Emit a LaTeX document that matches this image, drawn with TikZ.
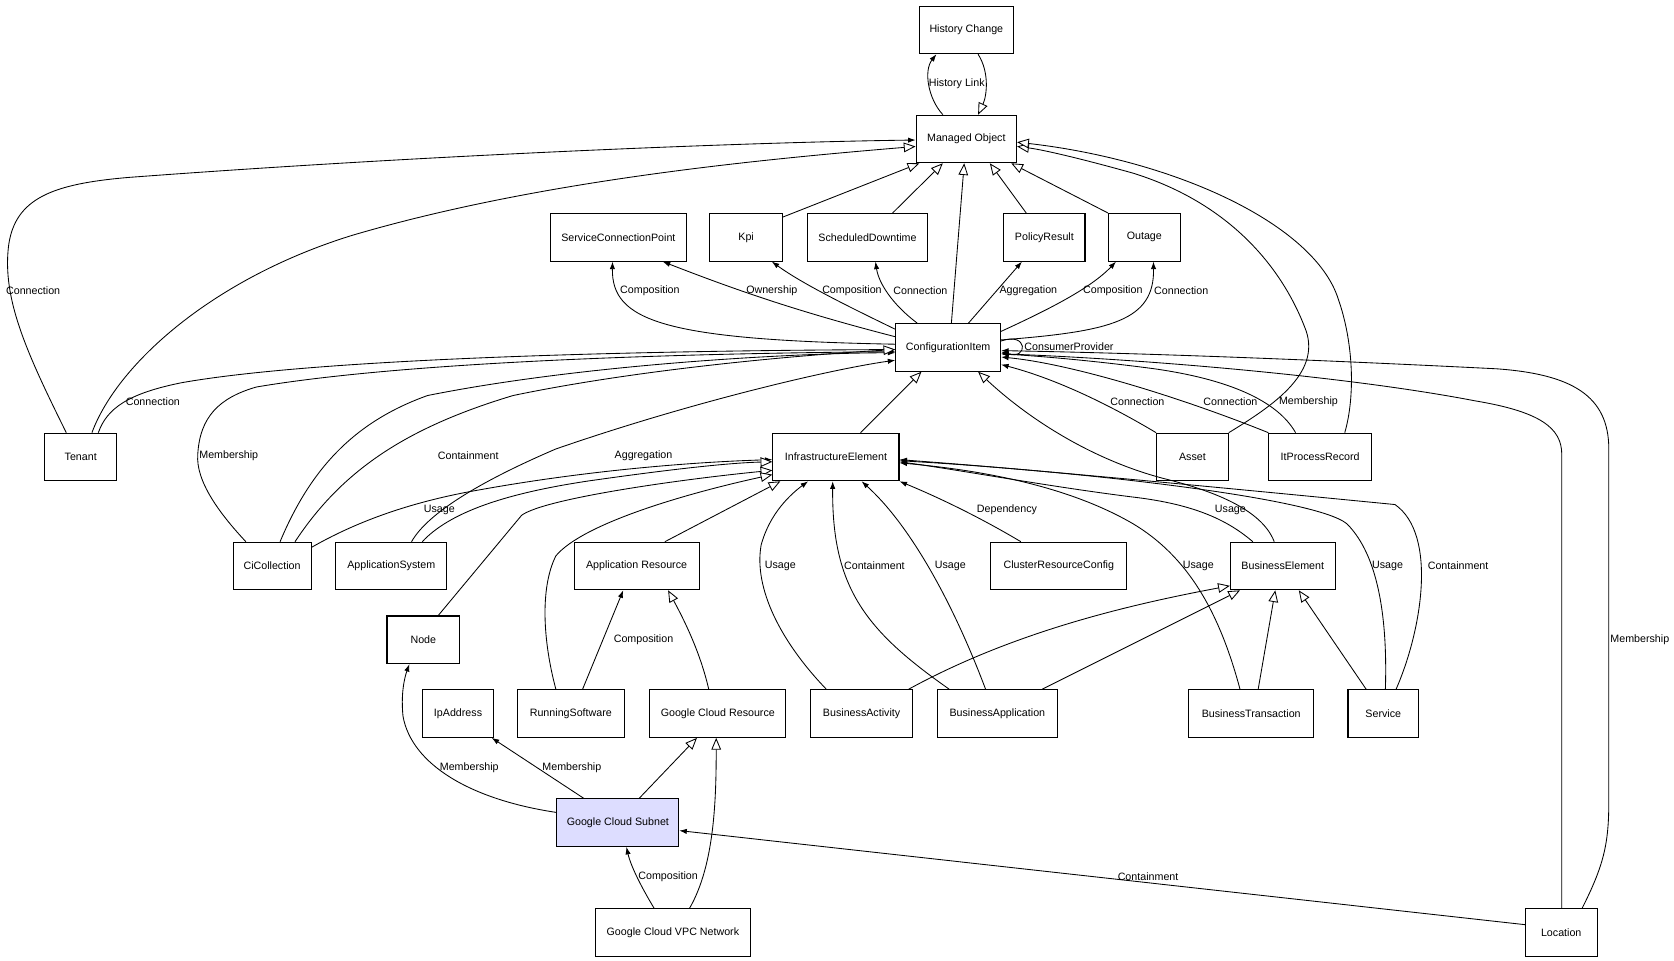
\documentclass[tikz,border=0pt]{standalone}
\usepackage{fontspec}
\setmainfont{Liberation Sans}
\usetikzlibrary{arrows.meta}
\definecolor{subnet}{RGB}{221,221,255}
\begin{document}
\begin{tikzpicture}[x=1pt,y=-1pt,
  box/.style={draw,line width=1pt,minimum height=44.5pt,inner sep=0pt,font=\fontsize{10}{12}\selectfont},
  lab/.style={inner sep=0.5pt,font=\fontsize{10}{12}\selectfont},
  edge/.style={line width=0.8pt},
  assoc/.style={edge,-{Latex[length=7pt,width=5pt]}},
  gen/.style={edge,-{Triangle[length=11pt,width=9pt,fill=white]}}]
\useasboundingbox (0,0) rectangle (1566,899);
% nodes
\node[box,minimum width=88pt] (hc) at (904,28) {History Change};
\node[box,minimum width=94pt] (mo) at (904,130) {Managed Object};
\node[box,minimum width=127pt] (scp) at (578.5,222) {ServiceConnectionPoint};
\node[box,minimum width=68pt] (kpi) at (698,222) {Kpi};
\node[box,minimum width=113pt] (sd) at (811.5,222) {ScheduledDowntime};
\node[box,minimum width=76pt] (pr) at (977,222) {PolicyResult};
\node[box,minimum width=67pt] (out) at (1070.5,222) {Outage};
\node[box,minimum width=98pt] (ci) at (887,325) {ConfigurationItem};
\node[box,minimum width=67pt] (ten) at (75.5,427.5) {Tenant};
\node[box,minimum width=118pt] (ie) at (782,427.5) {InfrastructureElement};
\node[box,minimum width=67pt] (asset) at (1115.5,427.5) {Asset};
\node[box,minimum width=96pt] (ipr) at (1235,427.5) {ItProcessRecord};
\node[box,minimum width=73pt] (cic) at (254.5,529.5) {CiCollection};
\node[box,minimum width=104pt] (as) at (366,529.5) {ApplicationSystem};
\node[box,minimum width=117pt] (ar) at (595.5,529.5) {Application Resource};
\node[box,minimum width=127pt] (crc) at (990.5,529.5) {ClusterResourceConfig};
\node[box,minimum width=98pt] (be) at (1200,529.5) {BusinessElement};
\node[box,minimum width=68pt] (node) at (396,598.5) {Node};
\node[box,minimum width=67pt] (ip) at (428.5,667.5) {IpAddress};
\node[box,minimum width=100pt] (rs) at (534,667.5) {RunningSoftware};
\node[box,minimum width=127pt] (gcr) at (671.5,667.5) {Google Cloud Resource};
\node[box,minimum width=96pt] (ba) at (806,667.5) {BusinessActivity};
\node[box,minimum width=112pt] (bapp) at (933,667.5) {BusinessApplication};
\node[box,minimum width=117pt] (bt) at (1170.5,667.5) {BusinessTransaction};
\node[box,minimum width=66pt] (svc) at (1294,667.5) {Service};
\node[box,minimum width=114pt,fill=subnet] (gcs) at (578,769.5) {Google Cloud Subnet};
\node[box,minimum width=145pt] (vpc) at (629.5,872.5) {Google Cloud VPC Network};
\node[box,minimum width=67pt] (loc) at (1460.5,872.5) {Location};
% history
\draw[assoc] (mo.north -| 882,0) .. controls (868,92) and (864,66) .. (hc.south -| 876,0);
\draw[gen] (hc.south -| 915,0) .. controls (926,68) and (923,90) .. (mo.north -| 915,0);
% tenant
\draw[assoc] (ten.north -| 62,0) .. controls (25,330) and (2,280) .. (8,230) .. controls (14,185) and (50,172) .. (120,166) .. controls (400,145) and (700,133) .. (mo.west |- 0,131);
\draw[gen] (ten.north -| 86,0) .. controls (110,340) and (200,260) .. (330,220) .. controls (500,170) and (700,150) .. (mo.west |- 0,137);
\draw[assoc] (ten.north -| 92,0) .. controls (100,382) and (120,368) .. (170,358) .. controls (300,335) and (600,328) .. (ci.west |- 0,327);
% generalizations to managed object
\draw[gen] (kpi.east |- 0,203) -- (mo.south -| 860,0);
\draw[gen] (sd.north -| 835,0) -- (mo.south -| 882,0);
\draw[gen] (ci.north -| 890,0) -- (mo.south -| 902,0);
\draw[gen] (pr.north -| 960,0) -- (mo.south -| 926,0);
\draw[gen] (out.north west) -- (mo.south -| 946,0);
\draw[gen] (asset.north east) .. controls (1190,380) and (1235,350) .. (1222,310) .. controls (1200,250) and (1150,190) .. (1060,162) .. controls (1010,148) and (975,140) .. (mo.east |- 0,137);
\draw[gen] (ipr.north -| 1258,0) .. controls (1268,370) and (1266,320) .. (1252,280) .. controls (1230,210) and (1100,150) .. (mo.east |- 0,133);
% configuration item associations upward
\draw[assoc] (ci.west |- 0,322) .. controls (620,318) and (572,300) .. (scp.south -| 573,0);
\draw[assoc] (ci.west |- 0,315) .. controls (740,290) and (680,268) .. (scp.south -| 620,0);
\draw[assoc] (ci.west |- 0,308) .. controls (790,285) and (750,265) .. (kpi.south -| 722,0);
\draw[assoc] (ci.north -| 858,0) .. controls (835,285) and (822,265) .. (sd.south -| 819,0);
\draw[assoc] (ci.north -| 906,0) -- (pr.south -| 956,0);
\draw[assoc] (ci.east |- 0,310) .. controls (980,290) and (1020,270) .. (out.south -| 1044,0);
\draw[assoc] (ci.east |- 0,318) .. controls (1040,310) and (1080,300) .. (out.south -| 1079,0);
\draw[assoc] (ci.east |- 0,319) .. controls (962,310) and (962,337) .. (ci.east |- 0,329);
% into CI
\draw[gen] (ie.north -| 805,0) -- (ci.south -| 862,0);
\draw[gen] (be.north -| 1192,0) .. controls (1180,475) and (1130,458) .. (1090,448) .. controls (1020,430) and (960,390) .. (ci.south -| 915,0);
\draw[assoc] (asset.north west) .. controls (1040,380) and (990,355) .. (ci.east |- 0,341);
\draw[assoc] (ipr.north west) .. controls (1100,370) and (1000,340) .. (ci.east |- 0,334);
\draw[assoc] (ipr.north -| 1212,0) .. controls (1195,375) and (1150,355) .. (1080,345) .. controls (1020,337) and (970,333) .. (ci.east |- 0,331);
\draw[assoc] (loc.north -| 1480,0) .. controls (1500,810) and (1505,790) .. (1505,750) -- (1505,420) .. controls (1505,370) and (1470,350) .. (1400,345) .. controls (1200,335) and (1050,330) .. (ci.east |- 0,328);
\draw[assoc] (loc.north -| 1461,0) -- (1461,425) .. controls (1461,400) and (1440,385) .. (1380,375) .. controls (1250,350) and (1050,335) .. (ci.east |- 0,331);
\draw[assoc] (cic.north -| 230,0) .. controls (205,480) and (183,450) .. (185,425) .. controls (187,390) and (205,372) .. (240,362) .. controls (400,335) and (700,330) .. (ci.west |- 0,329);
\draw[assoc] (cic.north -| 262,0) .. controls (290,440) and (330,395) .. (400,370) .. controls (550,340) and (750,330) .. (ci.west |- 0,330);
\draw[gen] (cic.north -| 276,0) .. controls (320,440) and (380,400) .. (480,370) .. controls (600,345) and (750,332) .. (ci.west |- 0,327);
\draw[assoc] (as.north -| 385,0) .. controls (400,480) and (450,450) .. (520,420) .. controls (650,375) and (780,345) .. (ci.west |- 0,337);
% into IE (left)
\draw[assoc] (cic.east |- 0,512) .. controls (330,490) and (380,470) .. (450,458) .. controls (550,440) and (650,432) .. (ie.west |- 0,430);
\draw[gen] (as.north -| 395,0) .. controls (420,480) and (470,462) .. (550,450) .. controls (620,440) and (680,433) .. (ie.west |- 0,432);
\draw[gen] (node.north -| 410,0) -- (488,482) .. controls (510,466) and (640,448) .. (ie.west |- 0,440);
\draw[gen] (rs.north -| 520,0) .. controls (508,600) and (505,550) .. (520,520) .. controls (545,490) and (640,462) .. (ie.west |- 0,444);
\draw[gen] (ar.north -| 622,0) -- (ie.south -| 730,0);
% into IE (bottom)
\draw[assoc] (ba.north -| 773,0) .. controls (730,600) and (705,550) .. (712,510) .. controls (720,480) and (740,462) .. (ie.south -| 756,0);
\draw[assoc] (bapp.north -| 888,0) .. controls (810,590) and (778,550) .. (ie.south -| 779,0);
\draw[assoc] (bapp.north -| 922,0) .. controls (890,560) and (850,490) .. (ie.south -| 806,0);
\draw[assoc] (crc.north -| 955,0) .. controls (910,480) and (870,462) .. (ie.south east);
% into IE (right)
\draw[assoc] (bt.north -| 1160,0) .. controls (1140,570) and (1110,520) .. (1060,490) .. controls (1000,455) and (920,440) .. (ie.east |- 0,433);
\draw[assoc] (be.north -| 1172,0) .. controls (1150,488) and (1120,472) .. (1060,465) .. controls (980,455) and (900,440) .. (ie.east |- 0,432);
\draw[assoc] (svc.north -| 1296,0) .. controls (1298,580) and (1290,520) .. (1260,490) .. controls (1230,465) and (1000,440) .. (ie.east |- 0,431);
\draw[assoc] (svc.north -| 1306,0) .. controls (1330,590) and (1345,500) .. (1305,472) .. controls (1100,452) and (950,438) .. (ie.east |- 0,430);
% business element
\draw[gen] (ba.north -| 850,0) .. controls (950,590) and (1060,565) .. (be.west |- 0,548);
\draw[gen] (bapp.north -| 975,0) -- (be.south -| 1160,0);
\draw[gen] (bt.north -| 1177,0) -- (be.south -| 1193,0);
\draw[gen] (svc.north -| 1278,0) -- (be.south -| 1215,0);
% application resource
\draw[assoc] (rs.north -| 545,0) -- (ar.south -| 583,0);
\draw[gen] (gcr.north -| 663,0) .. controls (655,610) and (640,580) .. (ar.south -| 625,0);
% google cloud
\draw[assoc] (gcs.west |- 0,760) .. controls (440,748) and (385,715) .. (377,670) .. controls (375,650) and (378,635) .. (node.south -| 383,0);
\draw[assoc] (gcs.north -| 546,0) -- (ip.south -| 460,0);
\draw[gen] (gcs.north -| 598,0) -- (gcr.south -| 652,0);
\draw[assoc] (vpc.north -| 612,0) .. controls (600,830) and (590,810) .. (gcs.south -| 586,0);
\draw[gen] (vpc.north -| 645,0) .. controls (668,810) and (670,750) .. (gcr.south -| 670,0);
\draw[assoc] (loc.west |- 0,865) -- (gcs.east |- 0,777);
% labels
\node[lab] (l1) at (895,78) {History Link};
\node[lab] (l2) at (31,272) {Connection};
\node[lab] (l3) at (608,272) {Composition};
\node[lab] (l4) at (722,272) {Ownership};
\node[lab] (l5) at (797,272) {Composition};
\node[lab] (l6) at (861,272) {Connection};
\node[lab] (l7) at (962,272) {Aggregation};
\node[lab] (l8) at (1041,272) {Composition};
\node[lab] (l9) at (1105,272) {Connection};
\node[lab] (l10) at (1000,324) {ConsumerProvider};
\node[lab] (l11) at (143,376) {Connection};
\node[lab] (l12) at (1064,376) {Connection};
\node[lab] (l13) at (1151,376) {Connection};
\node[lab] (l14) at (1224,376) {Membership};
\node[lab] (l15) at (214,426) {Membership};
\node[lab] (l16) at (438,426) {Containment};
\node[lab] (l17) at (602,426) {Aggregation};
\node[lab] (l18) at (411,477) {Usage};
\node[lab] (l19) at (942,477) {Dependency};
\node[lab] (l20) at (1151,477) {Usage};
\node[lab] (l21) at (730,529) {Usage};
\node[lab] (l22) at (818,529) {Containment};
\node[lab] (l23) at (889,529) {Usage};
\node[lab] (l24) at (1121,529) {Usage};
\node[lab] (l25) at (1298,529) {Usage};
\node[lab] (l26) at (1364,529) {Containment};
\node[lab] (l27) at (602,598) {Composition};
\node[lab] (l28) at (1534,598) {Membership};
\node[lab] (l29) at (439,718) {Membership};
\node[lab] (l30) at (535,718) {Membership};
\node[lab] (l31) at (625,820) {Composition};
\node[lab] (l32) at (1074,820) {Containment};
\end{tikzpicture}
\end{document}
